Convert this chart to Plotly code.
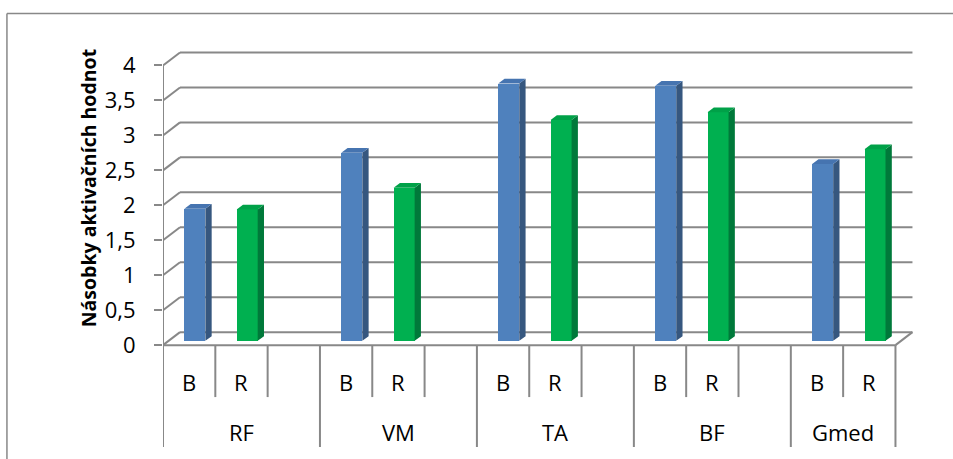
import plotly.graph_objects as go

# ---- data -------------------------------------------------------------
groups = ["RF", "VM", "TA", "BF", "Gmed"]
series_names = ["B", "R"]
values_b = [1.89, 2.69, 3.68, 3.65, 2.53]
values_r = [1.88, 2.19, 3.16, 3.27, 2.74]
y_ticks = [0, 0.5, 1, 1.5, 2, 2.5, 3, 3.5, 4]
y_tick_text = ["0", "0,5", "1", "1,5", "2", "2,5", "3", "3,5", "4"]
y_title = "Násobky aktivačních hodnot"

# ---- geometry of the pseudo-3D box (in axis units) ---------------------
SX, SY = 52.3, 70.0          # px per x slot / px per y unit
X_LEFT, Y_ZERO = 163, 345    # px position of x=0 / y=0
XMIN, XMAX = 0.0, 14.45
YMIN, YMAX = -1.5, 4.25
W, H = 953, 459

DXW, DYW = 17 / SX, 13 / SY          # depth of walls
DXB, DYB = 5.7 / SX, 4.3 / SY        # bar front offset inside floor
DDX, DDY = 6.3 / SX, 4.7 / SY        # bar depth
BW = 21 / SX                         # bar face width

SLOTS = 3                            # B, R and a spacer per group
n_slots = SLOTS * (len(groups) - 1) + len(series_names)

GRID = "#888888"
colors = {
    "B": ("#4F81BD", "#36577F", "#4674B0"),
    "R": ("#00B050", "#00793A", "#00A148"),
}

plot_w = (XMAX - XMIN) * SX
plot_h = (YMAX - YMIN) * SY
top_px = Y_ZERO - YMAX * SY

def paper_x(px):
    return (px - X_LEFT) / plot_w

def paper_y(py):
    return 1 - (py - top_px) / plot_h

fig = go.Figure()

# back wall, side wall and floor lines
shapes = []
def seg(x0, y0, x1, y1, width=2, color=GRID):
    shapes.append(dict(type="line", xref="x", yref="y", x0=x0, y0=y0,
                       x1=x1, y1=y1, layer="below",
                       line=dict(color=color, width=width)))

for v in y_ticks:
    seg(0, v, DXW, v + DYW)
    seg(DXW, v + DYW, n_slots + DXW, v + DYW)
seg(0, 0, n_slots, 0)
seg(n_slots, 0, n_slots + DXW, DYW)
seg(0, 0, 0, y_ticks[-1])

# category tick lines below the floor
short_y = -(397 - Y_ZERO) / SY
long_y = -(447 - Y_ZERO) / SY
group_edges = [SLOTS * g for g in range(len(groups))] + [n_slots]
for k in range(n_slots + 1):
    seg(k, 0, k, long_y if k in group_edges else short_y)

# outer frame (left and top edges)
for x0, y0, x1, y1 in [(7, 13, 1000, 13), (7, 13, 7, 500)]:
    shapes.append(dict(type="line", xref="paper", yref="paper",
                       x0=paper_x(x0), y0=paper_y(y0),
                       x1=paper_x(x1), y1=paper_y(y1),
                       line=dict(color=GRID, width=1.5)))

# bars: front faces as bar traces, side and top faces as filled polygons
for s, (name, vals) in enumerate(zip(series_names, [values_b, values_r])):
    front, side, top = colors[name]
    xs = [SLOTS * g + s + 0.5 + DXB for g in range(len(groups))]
    fig.add_trace(go.Bar(
        x=xs, y=vals, base=DYB, width=BW, name=name,
        marker=dict(color=front, line=dict(width=0)),
        hoverinfo="skip", showlegend=False))

    sx, sy, tx, ty = [], [], [], []
    for xc, v in zip(xs, vals):
        xl, xr = xc - BW / 2, xc + BW / 2
        yb, yt = DYB, DYB + v
        sx += [xr, xr + DDX, xr + DDX, xr, xr, None]
        sy += [yb, yb + DDY, yt + DDY, yt, yb, None]
        tx += [xl, xl + DDX, xr + DDX, xr, xl, None]
        ty += [yt, yt + DDY, yt + DDY, yt, yt, None]
    fig.add_trace(go.Scatter(x=sx, y=sy, fill="toself", fillcolor=side,
                             mode="lines", line=dict(width=0, color=side),
                             hoverinfo="skip", showlegend=False))
    fig.add_trace(go.Scatter(x=tx, y=ty, fill="toself", fillcolor=top,
                             mode="lines", line=dict(width=0, color=top),
                             hoverinfo="skip", showlegend=False))

# category labels
annotations = []
lab_font = dict(family="Open Sans", size=22, color="#000000")
for g, grp in enumerate(groups):
    for s, nm in enumerate(series_names):
        annotations.append(dict(x=SLOTS * g + s + 0.5, y=-(382 - Y_ZERO) / SY,
                                xref="x", yref="y", text=nm, showarrow=False,
                                font=lab_font, xanchor="center", yanchor="middle"))
    g_end = min(SLOTS * (g + 1), n_slots)
    annotations.append(dict(x=(SLOTS * g + g_end) / 2, y=-(432 - Y_ZERO) / SY,
                            xref="x", yref="y", text=grp, showarrow=False,
                            font=lab_font, xanchor="center", yanchor="middle"))

annotations.append(dict(x=paper_x(88), xref="paper",
                        y=(Y_ZERO - 188) / SY, yref="y",
                        text="<b>" + y_title + "</b>", textangle=-90,
                        showarrow=False, xanchor="center", yanchor="middle",
                        font=dict(family="Open Sans", size=19.5, color="#000000")))

fig.update_layout(
    width=W, height=H,
    margin=dict(l=X_LEFT, r=W - X_LEFT - plot_w, t=top_px,
                b=H - top_px - plot_h, autoexpand=False, pad=0),
    plot_bgcolor="white", paper_bgcolor="white",
    barmode="overlay", bargap=0,
    shapes=shapes, annotations=annotations,
    xaxis=dict(range=[XMIN, XMAX], visible=False, fixedrange=True),
    yaxis=dict(range=[YMIN, YMAX], showgrid=False, zeroline=False,
               showline=False, tickvals=y_ticks, ticktext=y_tick_text,
               ticks="outside", ticklen=8, tickwidth=2, tickcolor=GRID,
               ticklabelstandoff=14,
               tickfont=dict(family="Open Sans", size=22, color="#000000"),
               fixedrange=True),
)

fig.write_html("out.html")
